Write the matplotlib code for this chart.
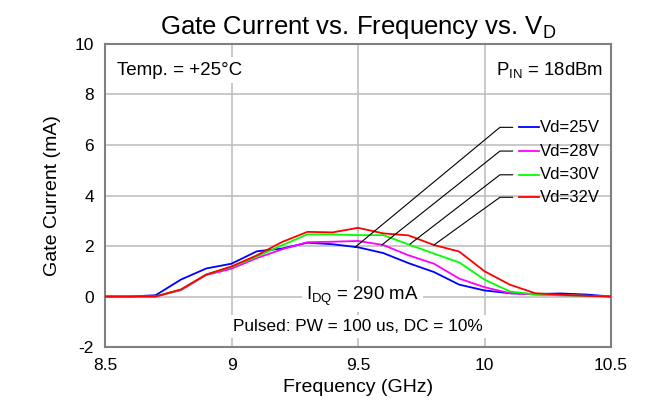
import matplotlib
matplotlib.use("Agg")
import matplotlib.pyplot as plt

plt.rcParams['font.family'] = ['Liberation Sans', 'DejaVu Sans']
plt.rcParams['mathtext.fontset'] = 'custom'
plt.rcParams['mathtext.rm'] = 'Liberation Sans'
plt.rcParams['mathtext.it'] = 'Liberation Sans'
plt.rcParams['mathtext.default'] = 'rm'
plt.rcParams['axes.unicode_minus'] = False

# data
freq = [8.5, 8.6, 8.7, 8.8, 8.9, 9.0, 9.1, 9.2, 9.3, 9.4, 9.5,
        9.6, 9.7, 9.8, 9.9, 10.0, 10.1, 10.2, 10.3, 10.4, 10.5]
ig_25v = [0.0, 0.0, 0.05, 0.67, 1.11, 1.3, 1.79, 1.9, 2.13, 2.07, 1.95,
          1.72, 1.32, 0.97, 0.47, 0.24, 0.13, 0.1, 0.12, 0.08, 0.0]
ig_28v = [0.0, 0.0, 0.0, 0.25, 0.85, 1.1, 1.52, 1.87, 2.15, 2.17, 2.2,
          2.04, 1.63, 1.3, 0.71, 0.37, 0.13, 0.08, 0.05, 0.03, 0.0]
ig_30v = [0.0, 0.0, 0.0, 0.27, 0.87, 1.17, 1.58, 2.03, 2.46, 2.46, 2.43,
          2.43, 2.06, 1.7, 1.35, 0.67, 0.2, 0.08, 0.05, 0.03, 0.0]
ig_32v = [0.0, 0.0, 0.0, 0.28, 0.87, 1.19, 1.63, 2.16, 2.56, 2.54, 2.72,
          2.5, 2.42, 2.04, 1.78, 1.0, 0.47, 0.13, 0.07, 0.03, 0.0]

labels = ['Vd=25V', 'Vd=28V', 'Vd=30V', 'Vd=32V']
colors = ['#0000ff', '#ff00ff', '#00ff00', '#ff0000']
# where each leader line touches its curve, and the label height
leader_start = [(9.488, 1.95), (9.594, 2.04), (9.706, 2.08), (9.80, 2.04)]
label_y = [6.70, 5.76, 4.82, 3.93]

fig = plt.figure(figsize=(6.47, 4.19), dpi=100)
ax = fig.add_axes([0.1623, 0.1718, 0.7821, 0.7232])

series = [ig_25v, ig_28v, ig_30v, ig_32v]
for vals, c in zip(series, colors):
    ax.plot(freq, vals, color=c, lw=1.3, zorder=3)

# leader lines + little legend entries
for (x0, y0), ly, c, lab in zip(leader_start, label_y, colors, labels):
    ax.plot([x0, 10.061, 10.111], [y0, ly, ly], color='black', lw=0.8, zorder=4)
    ax.plot([10.136, 10.215], [ly, ly], color=c, lw=1.3, zorder=4)
    ax.text(10.219, ly, lab, fontsize=12, va='center', ha='left', zorder=5)

ax.set_xlim(8.5, 10.5)
ax.set_ylim(-2, 10)
ax.set_xticks([8.5, 9, 9.5, 10, 10.5])
ax.set_xticklabels(['8.5', '9', '9.5', '10', '10.5'])
ax.set_yticks([-2, 0, 2, 4, 6, 8, 10])
ax.tick_params(length=0, labelsize=12.5, pad=8)
ax.grid(True, color='#c0c0c0', lw=1.2, zorder=0)
ax.set_axisbelow(True)
for s in ax.spines.values():
    s.set_color('#808080')
    s.set_linewidth(1.5)

box = dict(facecolor='white', edgecolor='none', pad=3)
ax.text(8.547, 8.97, 'Temp. = +25°C', fontsize=13.5, va='center', ha='left',
        bbox=box, zorder=2)
ax.text(10.468, 8.97, 'P$_{IN}$ = 18dBm', fontsize=13.4, va='center', ha='right',
        bbox=box, zorder=2)
ax.text(9.516, 0.0, 'I$_{DQ}$ = 290 mA', fontsize=13.4, va='center', ha='center',
        bbox=box, zorder=2)
ax.text(9.5, -1.2, 'Pulsed: PW = 100 us, DC = 10%', fontsize=12.4, va='center',
        ha='center', bbox=box, zorder=2)

ax.set_xlabel('Frequency (GHz)', fontsize=14, labelpad=4)
ax.set_ylabel('Gate Current (mA)', fontsize=14, labelpad=10)
ax.set_title('Gate Current vs. Frequency vs. V$_D$', fontsize=18.5, pad=7)

fig.savefig('out.png', dpi=100)
